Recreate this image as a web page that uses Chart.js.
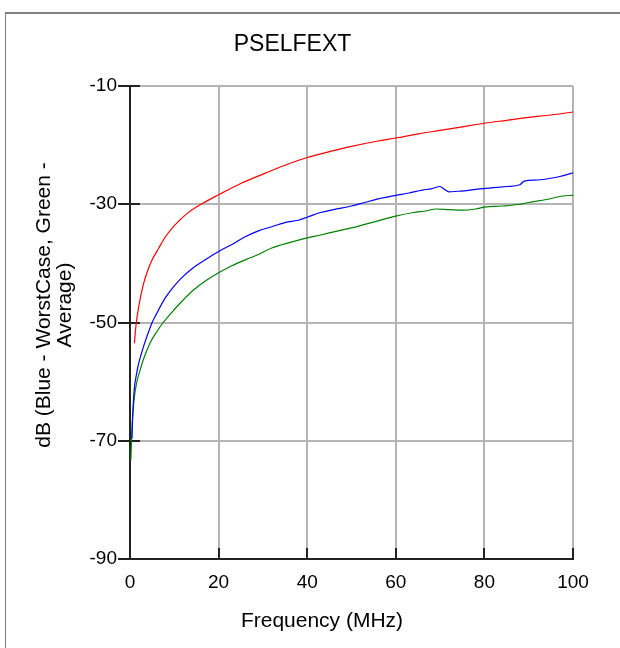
<!DOCTYPE html>
<html>
<head>
<meta charset="utf-8">
<script src="https://cdn.jsdelivr.net/npm/chart.js@4/dist/chart.umd.min.js"></script>
<style>
  body { margin: 0; background: #fff; }
  #wrap { position: relative; width: 620px; height: 648px; overflow: hidden; }
  #frame { position: absolute; left: 5px; top: 12px; width: 700px; height: 700px;
           border-top: 2px solid #808080; border-left: 1px solid #808080; }
  #chart1 { position: absolute; left: 0; top: 0; }
</style>
</head>
<body>
<div id="wrap">
  <div id="frame"></div>
  <canvas id="chart1" width="620" height="648"></canvas>
</div>
<script>
// tick labels
const xTicks = [0, 20, 40, 60, 80, 100];
const yTicks = [-90, -70, -50, -30, -10];

// red curve (limit)
const redFreq = [1, 1.35, 2, 3, 4, 5, 6.5, 8, 10, 13, 16.5, 20, 25, 30, 35, 40, 45, 50, 56, 60, 65, 70, 75, 80, 85, 90, 95, 100];
const redDb = [-53.5, -50.5, -47.2, -43.6, -41.2, -39.4, -37.4, -35.5, -33.6, -31.5, -29.8, -28.4, -26.5, -24.9, -23.4, -22.1, -21.1, -20.2, -19.3, -18.8, -18.1, -17.5, -16.9, -16.3, -15.8, -15.3, -14.9, -14.4];

// blue curve (worst case)
const blueFreq = [0.45, 0.6, 0.8, 1, 1.5, 2, 3, 4, 5, 6, 8, 10, 12, 14, 17, 20, 23, 26, 29, 32, 35, 38, 40, 43, 46, 50, 53, 56, 60, 63, 66, 68, 70, 71, 72, 74, 76, 79, 82, 85, 88, 89, 92, 95, 97, 100];
const blueDb = [-69.6, -66, -63, -61, -58.6, -56.8, -54.2, -52, -50, -48.5, -45.8, -43.8, -42.2, -40.9, -39.4, -38.0, -36.8, -35.5, -34.5, -33.8, -33.1, -32.7, -32.2, -31.4, -30.9, -30.3, -29.7, -29.1, -28.5, -28.1, -27.6, -27.4, -27.0, -27.5, -27.9, -27.8, -27.7, -27.4, -27.2, -27.0, -26.7, -26.1, -25.9, -25.6, -25.3, -24.7];

// green curve (average)
const greenFreq = [0.2, 0.4, 0.7, 1, 1.5, 2.3, 3, 4.5, 6, 7.5, 10, 12, 14.2, 17, 20, 23, 26, 29, 32, 36, 40, 43, 47, 50, 53, 56, 60, 64, 67, 69, 72, 75, 78, 80, 84, 88, 90, 94, 97.7, 100];
const greenDb = [-73.3, -68.5, -64.8, -62.5, -60.2, -58, -56.3, -53.5, -51.6, -50, -47.8, -46.2, -44.6, -43, -41.6, -40.4, -39.4, -38.5, -37.4, -36.5, -35.7, -35.2, -34.5, -34, -33.4, -32.8, -32, -31.4, -31.1, -30.8, -30.9, -31, -30.8, -30.5, -30.3, -30.0, -29.7, -29.2, -28.6, -28.5];

const FONT = "'Liberation Sans', Arial, sans-serif";

function pts(xs, ys) {
  return xs.map((x, i) => ({ x: x, y: ys[i] }));
}

function line(label, color, xs, ys) {
  return {
    label: label,
    data: pts(xs, ys),
    borderColor: color,
    borderWidth: 1.2,
    pointRadius: 0,
    fill: false,
    cubicInterpolationMode: 'monotone'
  };
}

// inside ticks + axis titles
const extras = {
  id: 'extras',
  beforeDatasetsDraw(chart) {
    const ctx = chart.ctx, a = chart.chartArea;
    const xs = chart.scales.x, ys = chart.scales.y;
    ctx.save();
    ctx.strokeStyle = '#222';
    ctx.lineWidth = 2;
    ctx.beginPath();
    xTicks.forEach(v => {
      const px = Math.round(xs.getPixelForValue(v));
      ctx.moveTo(px, a.bottom);
      ctx.lineTo(px, a.bottom - 11);
    });
    yTicks.forEach(v => {
      const py = Math.round(ys.getPixelForValue(v));
      ctx.moveTo(a.left, py);
      ctx.lineTo(a.left + 10, py);
    });
    ctx.stroke();
    ctx.restore();
  },
  afterDraw(chart) {
    const ctx = chart.ctx;
    ctx.save();
    ctx.fillStyle = '#000';
    ctx.font = '21px ' + FONT;
    ctx.textAlign = 'center';
    ctx.textBaseline = 'middle';
    ctx.fillText('Frequency (MHz)', 322, 621);
    ctx.translate(44, 305);
    ctx.rotate(-Math.PI / 2);
    ctx.fillText('dB (Blue - WorstCase, Green -', 0, 0);
    ctx.fillText('Average)', 0, 21);
    ctx.restore();
  }
};

const config = {
  type: 'line',
  data: {
    datasets: [
      line('Limit', '#ff0000', redFreq, redDb),
      line('WorstCase', '#0000ff', blueFreq, blueDb),
      line('Average', '#008000', greenFreq, greenDb)
    ]
  },
  options: {
    responsive: false,
    animation: false,
    layout: { padding: { left: 12, right: 47, top: 0, bottom: 0 } },
    plugins: {
      legend: { display: false },
      tooltip: { enabled: false },
      title: {
        display: true,
        text: 'PSELFEXT',
        color: '#000',
        font: { family: FONT, size: 23, weight: 'normal', lineHeight: 1.2 },
        padding: { top: 31, bottom: 27.4 }
      }
    },
    scales: {
      x: {
        type: 'linear',
        min: 0,
        max: 100,
        afterFit: s => { s.height = 89; },
        afterBuildTicks: s => { s.ticks = xTicks.map(v => ({ value: v })); },
        ticks: { color: '#000', font: { family: FONT, size: 19 }, padding: 12, maxRotation: 0 },
        grid: { color: '#b4b4b4', lineWidth: 2, drawTicks: false },
        border: { color: '#222', width: 2 }
      },
      y: {
        min: -90,
        max: -10,
        afterFit: s => { s.width = 118; },
        afterBuildTicks: s => { s.ticks = yTicks.map(v => ({ value: v })); },
        ticks: { color: '#000', font: { family: FONT, size: 19 }, padding: 1 },
        grid: { color: '#b4b4b4', lineWidth: 2, tickLength: 12, tickColor: '#222' },
        border: { color: '#222', width: 2 }
      }
    }
  },
  plugins: [extras]
};

const myChart = new Chart(document.getElementById('chart1'), config);
</script>
</body>
</html>
